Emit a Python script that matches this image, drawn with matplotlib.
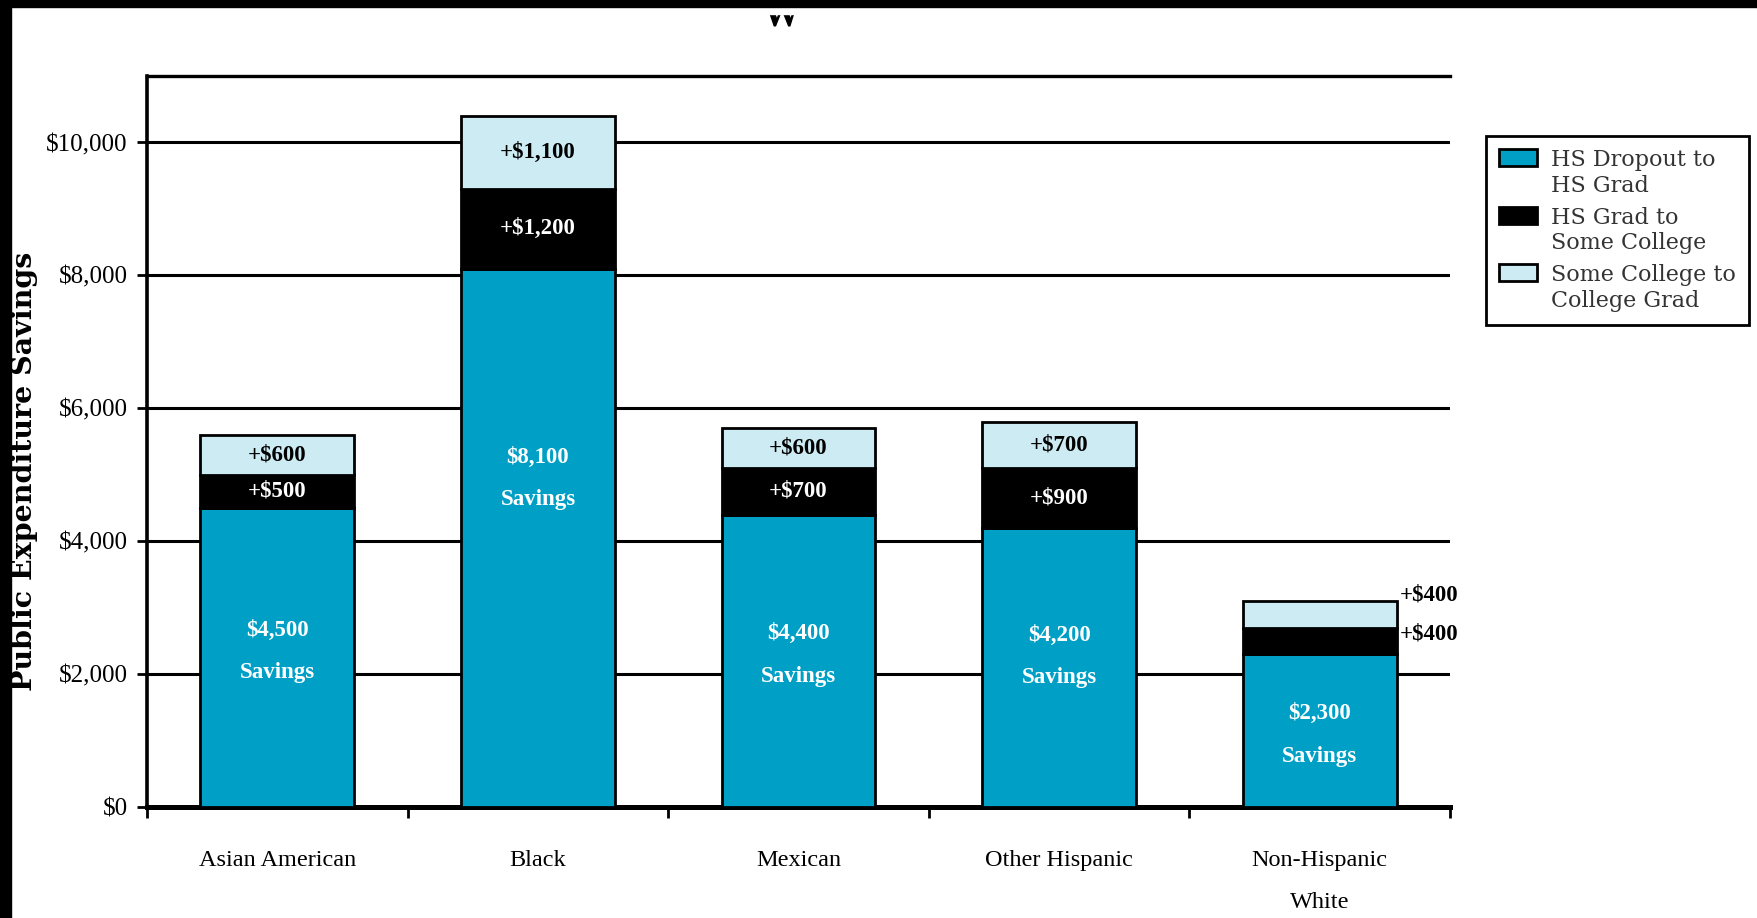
import numpy as np
import matplotlib.pyplot as plt
from matplotlib.patches import Rectangle
from matplotlib.legend_handler import HandlerPatch

# Savings per group, split by education step
groups = ["Asian American", "Black", "Mexican", "Other Hispanic", "Non-Hispanic\nWhite"]
dropout_to_grad = [4500, 8100, 4400, 4200, 2300]
grad_to_some_college = [500, 1200, 700, 900, 400]
some_college_to_grad = [600, 1100, 600, 700, 400]
series_names = ["HS Dropout to\nHS Grad", "HS Grad to\nSome College", "Some College to\nCollege Grad"]
y_ticks = [0, 2000, 4000, 6000, 8000, 10000]

# where the "Savings" label sits inside the first segment (fraction of its height)
savings_label_pos = [0.52, 0.61, 0.52, 0.54, 0.47]

BLUE = "#00A0C6"
LIGHT = "#CDEBF3"
serif = "Liberation Serif"

W, H = 1758, 918
fig = plt.figure(figsize=(W / 100, H / 100), dpi=100)
ax = fig.add_axes([147 / W, 1 - 807 / H, (1450 - 147) / W, (807 - 76) / H])

x = np.arange(len(groups))
bw = 0.59
lo = np.array(dropout_to_grad)
mid = np.array(grad_to_some_college)
hi = np.array(some_college_to_grad)

b1 = ax.bar(x, lo, bw, color=BLUE, edgecolor="black", linewidth=2, zorder=3)
b2 = ax.bar(x, mid, bw, bottom=lo, color="black", edgecolor="black", linewidth=2, zorder=3)
b3 = ax.bar(x, hi, bw, bottom=lo + mid, color=LIGHT, edgecolor="black", linewidth=2, zorder=3)

lbl = dict(fontfamily=serif, fontweight="bold", fontsize=16.5, ha="center", va="center", zorder=5)
for i in x:
    ax.text(i, lo[i] * savings_label_pos[i], f"${lo[i]:,}\nSavings", color="white",
            linespacing=2.35, **lbl)
    if mid[i] >= 500:
        ax.text(i, lo[i] + mid[i] / 2, f"+${mid[i]:,}", color="white", **lbl)
        ax.text(i, lo[i] + mid[i] + hi[i] / 2, f"+${hi[i]:,}", color="black", **lbl)
    else:
        # thin segments: put the labels beside the bar
        side = dict(lbl, ha="left")
        ax.annotate(f"+${mid[i]:,}", (i + bw / 2, lo[i] + mid[i] / 2), xytext=(2, 5),
                    textcoords="offset points", color="black", **side)
        ax.annotate(f"+${hi[i]:,}", (i + bw / 2, lo[i] + mid[i] + hi[i] / 2), xytext=(2, 14),
                    textcoords="offset points", color="black", **side)

ax.set_xlim(-0.5, len(groups) - 0.5)
ax.set_ylim(0, 11000)

ax.set_yticks(y_ticks)
ax.set_yticklabels([f"${v:,}" for v in y_ticks], fontfamily=serif, fontsize=18)
ax.tick_params(axis="y", length=7, width=2, pad=7, direction="out")
ax.yaxis.grid(True, color="black", linewidth=2.2)
ax.set_axisbelow(True)

ax.set_xticks(np.arange(len(groups) + 1) - 0.5)
ax.set_xticklabels([])
ax.tick_params(axis="x", which="major", length=8, width=2, direction="out")
ax.set_xticks(x, minor=True)
ax.set_xticklabels(groups, minor=True, fontfamily=serif, fontsize=17.5, linespacing=2.3)
ax.tick_params(axis="x", which="minor", length=0, pad=31)

ax.spines["right"].set_visible(False)
ax.spines["left"].set_linewidth(2.6)
ax.spines["top"].set_linewidth(2.4)
ax.spines["bottom"].set_linewidth(3.6)

fig.text(25 / W, 1 - 471 / H, "Public Expenditure Savings", rotation=90, ha="center",
         va="center", fontfamily="DejaVu Serif", fontweight="bold", fontsize=20.5)


# legend swatches sit level with the first line of each two-line label
def raised_box(legend, orig_handle, xdescent, ydescent, width, height, fontsize):
    return Rectangle((-xdescent, -ydescent + 11.5), width, height)


leg = fig.legend([b1.patches[0], b2.patches[0], b3.patches[0]], series_names,
                 loc="upper left", bbox_to_anchor=(1486 / W, 1 - 136 / H), borderaxespad=0,
                 handler_map={Rectangle: HandlerPatch(patch_func=raised_box)},
                 prop=dict(family="DejaVu Serif", size=16), labelcolor="#333333",
                 frameon=True, fancybox=False, edgecolor="black", framealpha=1,
                 handlelength=1.71, handleheight=0.81, handletextpad=0.6,
                 labelspacing=0.45, borderpad=0.6)
leg.get_frame().set_linewidth(2)
for t in leg.get_texts():
    t.set_linespacing(1.2)

# clipped heading fragment and dark edges of the page
fig.text(781 / W, 1 - 25 / H, "W", ha="center", va="baseline", fontfamily=serif,
         fontweight="bold", fontsize=27, zorder=3)
fig.add_artist(Rectangle((0, 1 - 14 / H), 1, 7 / H, transform=fig.transFigure,
                         color="white", zorder=8))
fig.add_artist(Rectangle((0, 1 - 7 / H), 1, 7 / H, transform=fig.transFigure,
                         color="black", zorder=9))
fig.add_artist(Rectangle((0, 0), 11 / W, 1, transform=fig.transFigure,
                         color="black", zorder=9))

fig.savefig("out.png", dpi=100)
